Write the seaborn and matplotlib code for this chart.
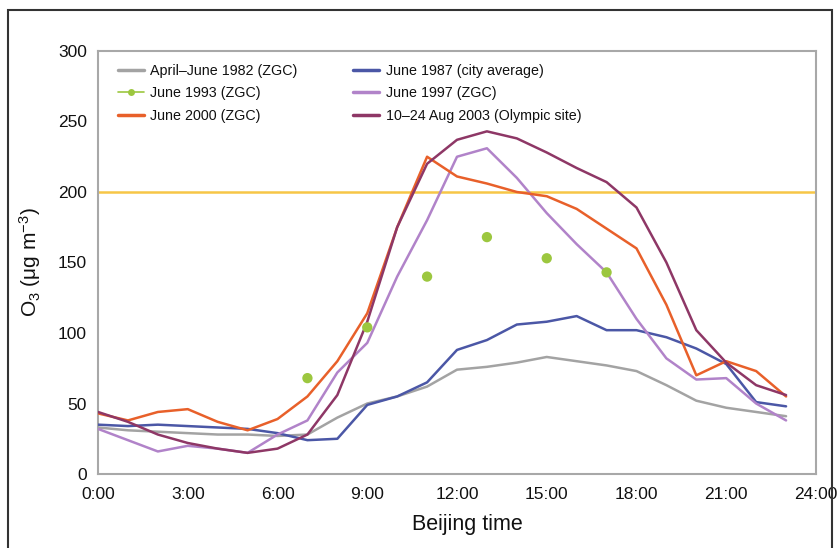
import matplotlib
matplotlib.use('Agg')
import matplotlib.pyplot as plt
from matplotlib.lines import Line2D
from matplotlib.patches import Rectangle
import numpy as np
import pandas as pd
import seaborn as sns

# hourly mean O3 (ug m-3)
hours = list(range(24))
apr_jun_1982 = [33, 31, 30, 29, 28, 28, 27, 28, 40, 50, 55, 62, 74, 76, 79, 83,
                80, 77, 73, 63, 52, 47, 44, 41]
jun_1987 = [35, 34, 35, 34, 33, 32, 29, 24, 25, 49, 55, 65, 88, 95, 106, 108,
            112, 102, 102, 97, 89, 78, 51, 48]
jun_1997 = [32, 24, 16, 20, 18, 15, 28, 38, 72, 93, 140, 180, 225, 231, 210,
            185, 163, 143, 110, 82, 67, 68, 50, 38]
jun_2000 = [43, 38, 44, 46, 37, 31, 39, 55, 80, 114, 175, 225, 211, 206, 200,
            197, 188, 174, 160, 120, 70, 80, 73, 55]
aug_2003 = [44, 37, 28, 22, 18, 15, 18, 28, 56, 108, 175, 220, 237, 243, 238,
            228, 217, 207, 189, 150, 102, 79, 63, 56]
# June 1993: only bi-hourly daytime points
hours_1993 = [7, 9, 11, 13, 15, 17]
jun_1993 = [68, 104, 140, 168, 153, 143]
standard = 200

tick_hours = list(range(0, 25, 3))
tick_labels = [f'{h}:00' for h in tick_hours]

sns.set_style('white')
plt.rcParams['font.family'] = ['Liberation Sans', 'DejaVu Sans']
plt.rcParams['mathtext.fontset'] = 'custom'
plt.rcParams['mathtext.rm'] = 'Liberation Sans'
plt.rcParams['mathtext.it'] = 'Liberation Sans'

fig, ax = plt.subplots(figsize=(8.4, 5.48), dpi=100)
fig.subplots_adjust(left=0.1167, right=0.9714, top=0.907, bottom=0.135)

ax.axhline(standard, color='#f7c646', lw=1.8, zorder=1)

series = [
    ('April\u2013June 1982 (ZGC)', apr_jun_1982, '#a3a3a3'),
    ('June 1987 (city average)', jun_1987, '#4b57a6'),
    ('June 1997 (ZGC)', jun_1997, '#b183c9'),
    ('June 2000 (ZGC)', jun_2000, '#e8602a'),
    ('10\u201324 Aug 2003 (Olympic site)', aug_2003, '#8e3766'),
]
colors = {}
for name, vals, col in series:
    df = pd.DataFrame({'hour': hours, 'o3': vals})
    sns.lineplot(data=df, x='hour', y='o3', color=col, lw=1.8, ax=ax,
                 zorder=3)
    colors[name] = col

green = '#9cc73f'
df93 = pd.DataFrame({'hour': hours_1993, 'o3': jun_1993})
sns.scatterplot(data=df93, x='hour', y='o3', color=green, s=55,
                edgecolor='none', ax=ax, zorder=4)

ax.set_xlim(0, 24)
ax.set_ylim(0, 300)
ax.set_xticks(tick_hours)
ax.set_xticklabels(tick_labels)
ax.set_yticks(np.arange(0, 301, 50))
ax.tick_params(axis='both', direction='in', length=4, width=1,
               color='#999999', labelsize=12.5, labelcolor='#111111')
ax.tick_params(axis='y', pad=8)
ax.tick_params(axis='x', pad=9)
ax.set_xlabel('Beijing time', fontsize=15.5, color='#111111')
ax.xaxis.set_label_coords(0.515, -0.095)
ax.set_ylabel('O$_3$ ($\\mu$g m$^{-3}$)', fontsize=15, color='#111111')
ax.yaxis.set_label_coords(-0.077, 0.5)
for s in ax.spines.values():
    s.set_color('#a8a8a8')
    s.set_linewidth(1.5)

# legend, filled column by column
def h(col, marker=False):
    if marker:
        return Line2D([], [], color=green, lw=1.2, marker='o', ms=5,
                      markeredgecolor='none')
    return Line2D([], [], color=col, lw=2.5)

names = [s[0] for s in series]
handles = [h(colors[names[0]]), h(None, True), h(colors[names[3]]),
           h(colors[names[1]]), h(colors[names[2]]), h(colors[names[4]])]
labels = [names[0], 'June 1993 (ZGC)', names[3],
          names[1], names[2], names[4]]
leg = ax.legend(handles, labels, ncol=2, frameon=False, loc='upper left',
                bbox_to_anchor=(0.02, 0.983), fontsize=10.3, handlelength=1.8,
                handletextpad=0.45, columnspacing=3.9, labelspacing=0.6,
                borderaxespad=0)
for t in leg.get_texts():
    t.set_color('#111111')

# outer frame around the whole panel
fig.patches.append(Rectangle((8 / 840, -0.01), 824 / 840, 1 - 10 / 548 + 0.01,
                             transform=fig.transFigure, fill=False,
                             edgecolor='#333333', lw=1.5))

plt.savefig('out.png', dpi=100)
plt.close()
